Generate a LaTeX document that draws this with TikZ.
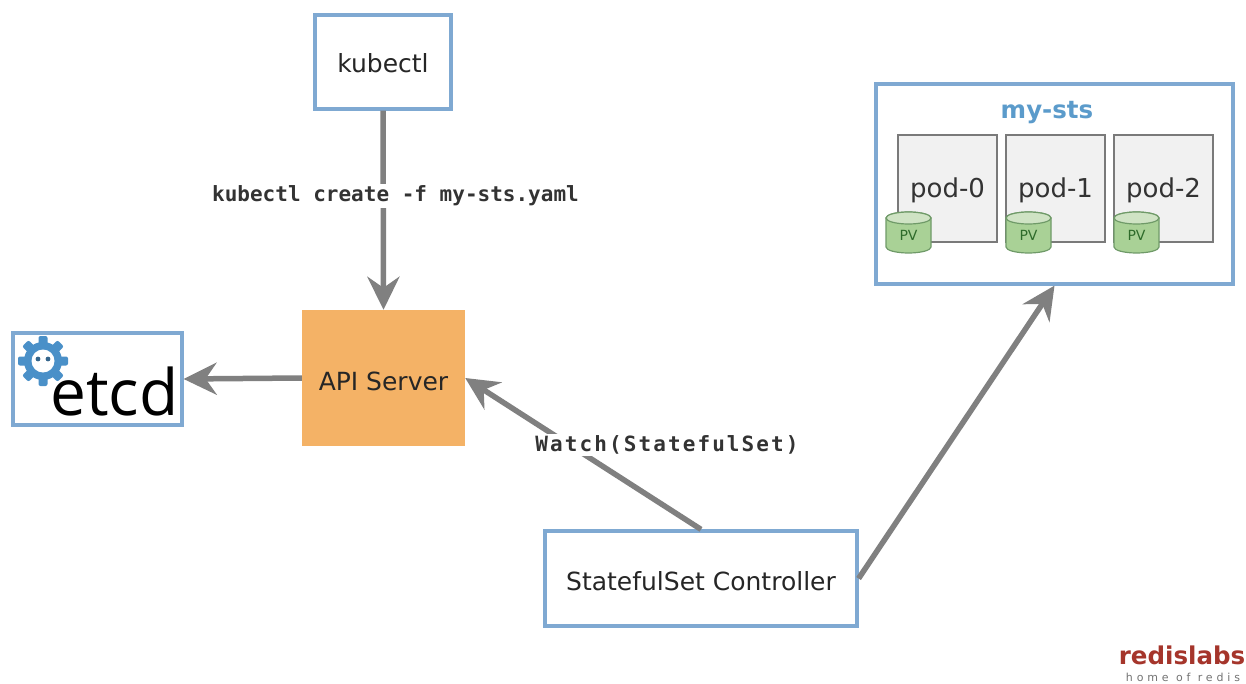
\documentclass[tikz,border=0pt]{standalone}
\usepackage{fontspec}
\setmainfont{DejaVu Sans}
\newfontfamily\monolab{DejaVu Sans Mono}[BoldFont={DejaVu Sans Mono Bold}]
\newfontfamily\monowide{DejaVu Sans Mono Bold}[LetterSpace=10]
\newfontfamily\etcdfont{Open Sans}
\newfontfamily\homefont{DejaVu Sans}[LetterSpace=35]
\usetikzlibrary{arrows.meta,shapes.geometric}
\definecolor{boxblue}{HTML}{7FA9D2}
\definecolor{gearblue}{HTML}{4A90C8}
\definecolor{stsblue}{HTML}{5B9BCB}
\definecolor{linegray}{HTML}{808080}
\definecolor{apiorange}{HTML}{F4B266}
\definecolor{podfill}{HTML}{F1F1F1}
\definecolor{podline}{HTML}{7A7A7A}
\definecolor{pvfill}{HTML}{A9D196}
\definecolor{pvtop}{HTML}{CFE3C4}
\definecolor{pvline}{HTML}{6F9A68}
\definecolor{pvtext}{HTML}{2E6B2A}
\definecolor{redislabs}{HTML}{A5352B}
\newcommand{\lowertext}[2]{\raisebox{-#1}[\height][\depth]{#2}}
\tikzset{
  bluebox/.style={draw=boxblue,line width=3.2pt,fill=white,inner sep=0pt,minimum width=#1},
  podbox/.style={draw=podline,line width=1.2pt,fill=podfill,minimum width=99pt,minimum height=107pt,inner sep=0pt},
  conn/.style={draw=linegray,line width=5.5pt,-{Stealth[length=33pt,width=32pt,inset=11pt]}},
  monotext/.style={fill=white,inner sep=2pt,text=black!80,font=\monolab\bfseries\fontsize{21}{24}\selectfont},
  bodytext/.style={font=\fontsize{25}{28}\selectfont,text=black!85},
  podtext/.style={font=\fontsize{26}{28}\selectfont,text=black!80},
  pvtextstyle/.style={font=\fontsize{14}{16}\selectfont,text=pvtext,inner sep=0pt},
  cylbody/.style={draw=pvline,line width=1.2pt,fill=pvfill},
  cyltop/.style={draw=pvline,line width=1.2pt,fill=pvtop},
}
\newcommand{\pvcyl}[3]{% left x, name, label
  \path[cylbody] (#1,218) -- (#1,247) arc[start angle=180,end angle=0,x radius=22.5,y radius=6]
    -- (#1+45,218) arc[start angle=0,end angle=-180,x radius=22.5,y radius=6] -- cycle;
  \path[cyltop] (#1+22.5,218) ellipse[x radius=22.5,y radius=6];
  \node[pvtextstyle] (#2) at (#1+22.5,235) {#3};
}
\begin{document}
\begin{tikzpicture}[x=1pt,y=-1pt]
\useasboundingbox (0,0) rectangle (1246,684);
\fill[white] (0,0) rectangle (1246,684);

% boxes
\node[bluebox=136pt,minimum height=94pt,bodytext] (kubectl) at (383,62) {\lowertext{1pt}{kubectl}};
\node[fill=apiorange,minimum width=163pt,minimum height=136pt,inner sep=0pt,bodytext] (api) at (383.5,378) {\lowertext{3pt}{API Server}};
\node[bluebox=169pt,minimum height=92pt] (etcd) at (97.5,379) {};
\node[bluebox=312pt,minimum height=95pt,bodytext] (sc) at (701,578.5) {\lowertext{2.5pt}{StatefulSet Controller}};
\node[bluebox=357pt,minimum height=200pt] (mysts) at (1054.5,184) {};

% etcd logo
\node[inner sep=0pt,font=\etcdfont\fontsize{64}{70}\selectfont,text=black] (etcdword) at (114.5,391) {etcd};
\begin{scope}[shift={(43,361)}]
  \foreach \a in {0,45,...,315}
    \fill[gearblue,rotate=\a,rounded corners=2pt] (-4.5,-25) rectangle (4.5,-14);
  \fill[gearblue] (0,0) circle[radius=19];
  \fill[white] (0,0) circle[radius=11.5];
  \fill[gearblue!70!black] (-5,-2) circle[radius=2.4] (5,-2) circle[radius=2.4];
\end{scope}

% my-sts contents
\node[font=\bfseries\fontsize{24.5}{28}\selectfont,text=stsblue,inner sep=0pt] (ststitle) at (1047,113) {my-sts};
\node[podbox,podtext] (pod0) at (947.5,188.5) {\lowertext{1.5pt}{pod-0}};
\node[podbox,podtext] (pod1) at (1055.5,188.5) {\lowertext{1.5pt}{pod-1}};
\node[podbox,podtext] (pod2) at (1163.5,188.5) {\lowertext{1.5pt}{pod-2}};
\pvcyl{886}{pv0}{PV}
\pvcyl{1006}{pv1}{PV}
\pvcyl{1114}{pv2}{PV}

% connectors
\draw[conn] (kubectl.south) -- (api.north);
\draw[conn] (api.west) -- (etcd.east);
\draw[conn] (sc.north) -- (api.east);
\draw[conn] (sc.east) -- (mysts.south);

% connector labels
\node[monotext] (createlabel) at (395.5,196) {kubectl create -f my-sts.yaml};
\node[monotext,font=\monowide\fontsize{21}{24}\selectfont] (watchlabel) at (667,445) {Watch(StatefulSet)};

% vendor mark
\node[inner sep=0pt,font=\bfseries\fontsize{24.5}{28}\selectfont,text=redislabs] (redisword) at (1182,655) {redislabs};
\node[inner sep=0pt,font=\homefont\fontsize{11}{13}\selectfont,text=black!55] (redishome) at (1183,677) {home of redis};
\end{tikzpicture}
\end{document}
